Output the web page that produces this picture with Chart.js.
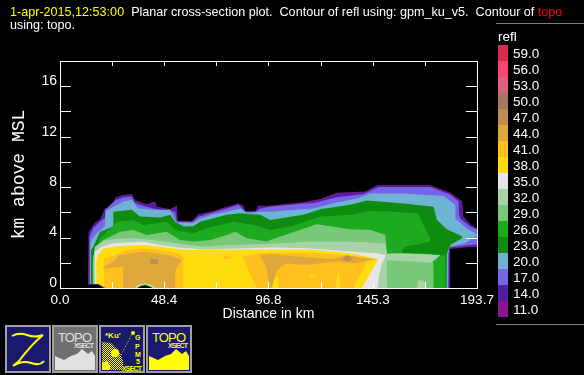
<!DOCTYPE html>
<html>
<head>
<meta charset="utf-8">
<title>Planar cross-section plot</title>
<script src="https://cdn.jsdelivr.net/npm/chart.js@4"></script>
<style>
  html, body { margin: 0; padding: 0; background: #000; width: 584px; height: 375px; overflow: hidden; }
  body { position: relative; font-family: "Liberation Sans", sans-serif; color: #fff; }
  #plot { position: absolute; left: 0; top: 0; }
  .head { position: absolute; left: 10px; font-size: 12.6px; white-space: pre; line-height: 14px; }
  .rule { position: absolute; left: 496px; width: 88px; height: 1px; background: #808080; }
  #legend-name { position: absolute; left: 498px; top: 30px; font-size: 13.5px; line-height: 14px; }
  .swatch { position: absolute; left: 498px; width: 10px; height: 16px; }
  .swatch-label { position: absolute; left: 513px; font-size: 13.5px; line-height: 16px; margin-top: 1px; }
  .icon { position: absolute; top: 325px; }
</style>
</head>
<body>
<canvas id="plot" width="584" height="375"></canvas>

<div class="head" style="top:5px"><span style="color:#ffff00">1-apr-2015,12:53:00</span>  Planar cross-section plot.  Contour of refl using: gpm_ku_v5.  Contour of <span style="color:#ff0000">topo</span></div>
<div class="head" style="top:18px">using: topo.</div>

<div class="rule" style="top:23px"></div>
<div class="rule" style="top:324px"></div>
<div id="legend-name">refl</div>
<div id="legend"></div>

<svg class="icon" style="left:5px" width="46" height="48">
  <rect x="1" y="1" width="44" height="46" fill="#191970" stroke="#a0a0a0" stroke-width="2"/>
  <path d="M7 11 Q14 7 22 10 T38 10 Q26 20 14 36 L8 41 Q17 35 26 38 T39 36" fill="none" stroke="#ffff00" stroke-width="2"/>
</svg>
<svg class="icon" style="left:52px" width="46" height="48">
  <rect x="1" y="1" width="44" height="46" fill="#707070" stroke="#a0a0a0" stroke-width="2"/>
  <text x="6" y="17" font-size="13" fill="#e0e0e0" font-family="Liberation Sans" textLength="34">TOPO</text>
  <text x="22" y="23" font-size="7" font-weight="bold" fill="#e0e0e0" font-family="Liberation Sans" textLength="20">XSECT</text>
  <path d="M3 45 L3 31 L12 35 L19 31 L25 29 L30 24 L36 29 L40 26 L43 31 L43 45 Z" fill="#e0e0e0"/>
</svg>
<svg class="icon" style="left:99px" width="46" height="48">
  <defs>
    <pattern id="dither" width="2" height="2" patternUnits="userSpaceOnUse">
      <rect width="1" height="1" fill="#ffff00"/><rect x="1" y="1" width="1" height="1" fill="#ffff00"/>
    </pattern>
  </defs>
  <rect x="1" y="1" width="44" height="46" fill="#191970" stroke="#a0a0a0" stroke-width="2"/>
  <path d="M3 45 L3 17 L12 18 L20 26 L24 36 L24 45 Z" fill="url(#dither)"/>
  <circle cx="16" cy="28" r="4" fill="#ffff00"/>
  <path d="M3 45 L3 38 L8 36 L11 41 L11 45 Z" fill="#ffff00"/>
  <text x="6" y="13" font-size="8" fill="#ffff00" font-family="Liberation Sans" font-weight="bold">*Ku'</text>
  <text x="36" y="15" font-size="7" fill="#ffff00" font-family="Liberation Sans" font-weight="bold">G</text>
  <text x="36" y="24" font-size="7" fill="#ffff00" font-family="Liberation Sans" font-weight="bold">P</text>
  <text x="36" y="32" font-size="7" fill="#ffff00" font-family="Liberation Sans" font-weight="bold">M</text>
  <text x="37" y="39" font-size="7" fill="#ffff00" font-family="Liberation Sans" font-weight="bold">5</text>
  <text x="23" y="46" font-size="7" fill="#ffff00" font-family="Liberation Sans" font-weight="bold" textLength="20">XSECT</text>
  <path d="M22 30 L33 9" stroke="#ffff00" stroke-width="1" stroke-dasharray="1 2"/>
  <circle cx="34" cy="8" r="2" fill="#ffff00"/>
</svg>
<svg class="icon" style="left:146px" width="46" height="48">
  <rect x="1" y="1" width="44" height="46" fill="#191970" stroke="#a0a0a0" stroke-width="2"/>
  <text x="6" y="17" font-size="13" fill="#ffff00" font-family="Liberation Sans" textLength="34">TOPO</text>
  <text x="22" y="23" font-size="7" font-weight="bold" fill="#ffff00" font-family="Liberation Sans" textLength="20">XSECT</text>
  <path d="M3 45 L3 31 L12 35 L19 31 L25 29 L30 24 L36 29 L40 26 L43 31 L43 45 Z" fill="#ffff00"/>
</svg>

<script>
  // legend
  var LEVELS = ['59.0', '56.0', '53.0', '50.0', '47.0', '44.0', '41.0', '38.0', '35.0', '32.0', '29.0', '26.0', '23.0', '20.0', '17.0', '14.0', '11.0'];
  var LEVEL_COLORS = ['#d92b4b', '#f5476f', '#de6080', '#a47860', '#bf8d50', '#dfa83c', '#ffc01e', '#ffdc0f', '#e6e6e6', '#a8d2a8', '#78c878', '#1eaa1e', '#0f8c0f', '#6eb4d2', '#7864e6', '#5020a0', '#8c148c'];

  // axes
  var X_TICKS = [0, 24.2, 48.4, 72.6, 96.8, 121.1, 145.3, 169.5, 193.7];
  var X_LABELS = ['0.0', '', '48.4', '', '96.8', '', '145.3', '', '193.7'];
  var Y_LABELS = { 0: '0', 4: '4', 8: '8', 12: '12', 16: '16' };

  // contour tops and floors, km against distance in km
  var dist11 = [13.0, 13.3, 14.7, 16.3, 18.6, 20.9, 24.8, 25.6, 28.7, 33.3, 34.9, 40.3, 44.2, 45, 51.2, 54.3, 54.6, 61.2, 64.3, 71.3, 77.5, 82.9, 85.3, 86, 90.7, 92.2, 96.1, 113, 120.9, 128.6, 142, 147.2, 172, 181.3, 186.7, 187, 187.2, 190.6, 193.7];
  var top11 = [0.3, 4.4, 4.78, 5.18, 5.45, 6.3, 6.55, 7.15, 7.35, 7.45, 6.95, 6.65, 6.85, 6.45, 6.25, 6.55, 5.35, 5.3, 5.85, 6.1, 6.45, 6.7, 6.5, 6.1, 6.1, 6.55, 6.5, 6.8, 7.05, 7.55, 7.65, 8.15, 8.15, 7.55, 6.9, 6.25, 5.7, 5.05, 4.7];
  var floorDist11 = [13.0, 181.1, 181.2, 190.6, 193.7];
  var floor11 = [0, 0, 3.1, 3.25, 3.25];

  var dist14 = [13.3, 14.7, 16.3, 18.6, 20.9, 24.8, 25.6, 28.7, 33.3, 34.9, 40.3, 42.6, 44.2, 45, 51.2, 54.3, 54.6, 56.6, 61.2, 64.3, 71.3, 77.5, 82.9, 85.3, 86, 90.7, 92.2, 96.1, 113, 117.7, 120.9, 128.6, 142, 147.2, 172, 174.3, 181.3, 186.7, 187, 187.2, 190.6, 193.7];
  var top14 = [4.34, 4.73, 5.13, 5.4, 6.25, 6.5, 7.1, 7.3, 7.4, 6.9, 6.6, 6.8, 6.8, 6.4, 6.2, 6.5, 5.3, 5.25, 5.25, 5.8, 6.05, 6.4, 6.65, 6.45, 6.05, 6.05, 6.5, 6.45, 6.75, 6.85, 7.0, 7.5, 7.6, 8.1, 8.1, 7.9, 7.5, 6.85, 6.2, 5.65, 5.0, 4.65];
  var floorDist14 = [13.3, 180.9, 181, 190.6, 193.7];
  var floor14 = [0, 0, 3.15, 3.3, 3.3];

  var dist17 = [13.6, 15.5, 16.3, 20.9, 21, 25.6, 29.5, 33.3, 34.9, 40.3, 45, 51.2, 53.5, 54.3, 61.2, 64.3, 71.3, 77.5, 82.9, 85.3, 86, 90.7, 93, 97.6, 113, 117.7, 128.6, 141, 148, 172, 181.3, 185.2, 185.3, 186, 190.6, 193.7];
  var top17 = [4.0, 4.8, 4.9, 5.6, 6.2, 6.95, 7.2, 7.25, 6.75, 6.45, 6.25, 6.1, 6.05, 5.25, 5.2, 5.65, 6, 6.3, 6.6, 6.2, 6, 6, 6.3, 6.45, 6.7, 6.75, 7.2, 7.45, 8.0, 8.0, 7.4, 6.85, 5.9, 5.5, 4.85, 4.65];
  var floorDist17 = [13.6, 180.5, 180.6, 190.6, 193.7];
  var floor17 = [0, 0, 3.2, 3.4, 3.45];

  var dist20 = [14.0, 14.7, 17, 20.9, 21.2, 25.6, 29.5, 33.3, 36.4, 42.6, 51.2, 53.5, 54.6, 62, 65.1, 71.3, 77.5, 83.7, 86.8, 93, 97.6, 117.7, 127, 137.9, 144.1, 159.6, 178.2, 183.6, 183.7, 189, 193, 193.7];
  var top20 = [3.5, 3.8, 4.35, 4.9, 6.1, 6.5, 6.85, 7.0, 6.3, 6.2, 6.2, 5.4, 5.2, 5.2, 5.5, 5.85, 6.05, 6.3, 5.95, 6.05, 6.05, 6.3, 6.72, 7.1, 7.5, 7.5, 7.3, 6.6, 5.5, 4.7, 4.35, 4.2];
  var floorDist20 = [14.0, 180.1, 180.2, 181, 188, 192, 193.7];
  var floor20 = [0, 0, 2.6, 3.3, 3.55, 3.95, 4.2];

  var dist23 = [14.4, 15.5, 18.6, 20.9, 24.7, 24.8, 33.3, 37.2, 46.5, 51.2, 53.5, 57.4, 62, 65.1, 77.5, 83.7, 93, 97.6, 113, 120.9, 134.8, 142.5, 159.6, 173.5, 175.1, 179.7, 186.7];
  var top23 = [3.0, 3.3, 4.47, 4.6, 4.9, 6.05, 6.2, 5.66, 5.6, 5.8, 5.25, 4.87, 4.9, 5.25, 5.8, 5.93, 5.8, 5.4, 5.8, 6.25, 6.6, 6.93, 6.7, 6.45, 5.4, 4.65, 4.1];
  var floorDist23 = [14.4, 179.6, 179.7, 181.3, 186.7];
  var floor23 = [0, 0, 2.7, 3.4, 3.95];

  var dist26 = [14.9, 15.5, 18.6, 23.3, 26.4, 34.1, 38.8, 49.6, 53.5, 62, 68.2, 74.4, 80.6, 89.9, 97.6, 107, 120.9, 134.8, 144.1, 155.7, 166.5, 168, 172, 172.1, 177, 179, 179.1];
  var top26 = [2.3, 2.5, 3.95, 4.7, 5.25, 5.4, 5, 5.25, 4.6, 4.34, 4.75, 5, 5.25, 5, 4.6, 4.87, 5.66, 5.8, 6.1, 6.05, 5.9, 5.25, 3.9, 2.7, 2.6, 2.6, 0];

  var dist29 = [15.3, 16.3, 20.2, 27.9, 34.1, 40.3, 49.6, 55.8, 62, 69.8, 77.5, 81.4, 86.8, 96.1, 97.6, 106.9, 119.3, 134.8, 144.1, 151.1, 151.5, 152, 158.8, 172.5, 173.5, 173.6];
  var top29 = [2.4, 3.02, 3.81, 4.47, 4.6, 4.2, 4.47, 3.81, 3.68, 3.81, 4.2, 4.47, 3.94, 3.68, 3.81, 4.34, 5.05, 4.66, 4.6, 4.2, 3.54, 2.55, 2.75, 2.7, 1.9, 0];

  // darker wedge laid over the 26 band east of 158 km
  var dist23b = [158.8, 160.4, 165, 172, 176.6];
  var top23b = [2.95, 3.3, 3.4, 3.68, 2.7];
  var floorDist23b = [158.8, 176.6];
  var floor23b = [2.75, 2.65];

  var dist32 = [15.6, 16.3, 20.2, 26.4, 34.1, 43.4, 54.3, 66.7, 77.5, 97.6, 116.2, 134.8, 144.1, 151.1, 151.8, 151.9];
  var top32 = [2.6, 3.28, 3.76, 3.9, 3.94, 3.81, 3.54, 3.28, 3.41, 3.5, 3.67, 3.67, 3.6, 3.5, 2.75, 0];

  var dist32b = [151.5, 155.7, 166, 176.6];
  var top32b = [2.72, 2.75, 2.68, 2.62];
  var floorDist32b = [151.5, 163, 172, 174, 176.6];
  var floor32b = [2.2, 2.1, 2.0, 2.2, 2.6];

  var dist32c = [165.8, 166.5, 169, 169.6];
  var top32c = [0, 0.6, 0.6, 0];

  var dist35 = [16.1, 16.2, 19.5, 24.7, 38.8, 46.5, 54.3, 68.2, 97.6, 114.6, 134.8, 147.2, 151.1, 151.4];
  var top35 = [2.4, 2.88, 3.28, 3.54, 3.67, 3.41, 3.22, 3.06, 3.22, 3.15, 2.9, 2.75, 2.6, 2.55];
  var floorDist35 = [16.1, 147.5, 148.4, 149.5, 151.4];
  var floor35 = [0, 0, 1.16, 1.96, 2.55];

  var dist38 = [16.8, 17.5, 20.4, 28.7, 38.8, 49.6, 58.9, 93, 97.6, 116.2, 134.8, 147.9];
  var top38 = [2.2, 2.6, 3.17, 3.33, 3.41, 3.22, 3.02, 3.06, 3.06, 3.06, 2.75, 2.28];
  var floorDist38 = [16.8, 140.2, 147.9];
  var floor38 = [0, 0, 2.28];

  var dist41 = [20.4, 25.6, 31, 38.8, 49.6, 55, 57.4];
  var top41 = [2.35, 2.6, 3.02, 3.15, 2.93, 2.75, 2.43];
  var floorDist41 = [20.4, 57.3, 57.4];
  var floor41 = [0, 0, 2.43];

  var dist41b = [75.2, 77, 80.6];
  var top41b = [2.35, 2.6, 2.4];
  var floorDist41b = [75.2, 77, 80.6];
  var floor41b = [2.35, 2.28, 2.4];

  var dist41c = [84.5, 93, 97.6, 116.2, 134.8, 143.3];
  var top41c = [2.45, 2.75, 2.8, 2.8, 2.58, 2.3];
  var floorDist41c = [84.5, 91.5, 136.3, 143.3];
  var floor41c = [2.45, 0, 0, 2.3];

  // yellow specks inside the 41 band
  var dist38b = [97.6, 101.5];
  var top38b = [0.9, 0.9];
  var dist38c = [115.4, 117, 119.3];
  var top38c = [1.0, 1.15, 0.95];
  var floorDist38c = [115.4, 119.3];
  var floor38c = [0.9, 0.9];
  var dist38d = [127.8, 129.5, 130.1];
  var top38d = [0, 1.55, 0];

  var dist44 = [19.4, 25.6, 27.1, 38.8, 51.2, 56.6];
  var top44 = [1.56, 2.2, 2.6, 2.9, 2.6, 2.2];
  var floorDist44 = [19.4, 29.3, 29.4, 53.5, 53.6, 56.6];
  var floor44 = [1.56, 1.7, 0, 0, 1.43, 2.2];

  var dist44b = [93, 97.6, 113, 127, 133, 141, 147.2];
  var top44b = [2.6, 2.7, 2.45, 2.3, 2.6, 2.4, 2.28];
  var floorDist44b = [93, 96, 97.2, 98.4, 100.7, 105.3, 113.1, 120.9, 127, 130, 136.3, 147.2];
  var floor44b = [2.6, 1.5, 0, 0, 1.43, 1.96, 1.83, 1.96, 2.1, 2.1, 1.96, 2.28];

  var dist47 = [41.9, 45.7];
  var top47 = [2.3, 2.3];
  var floorDist47 = [41.9, 45.7];
  var floor47 = [1.9, 1.9];

  var dist47b = [131, 133.5, 136];
  var top47b = [2.3, 2.6, 2.25];
  var floorDist47b = [131, 133.5, 136];
  var floor47b = [2.3, 2.1, 2.25];

  // no-echo ground humps along the bottom of the section
  var humpDistA = [13.0, 17.8, 21];
  var humpRimA = [0.32, 0.32, 0];
  var humpDistB = [13.0, 17.8, 20];
  var humpCoreA = [0.25, 0.25, 0];
  var humpDistC = [34.9, 36.5, 39.5, 42, 44.2];
  var humpRimWhite = [0, 0.25, 0.36, 0.25, 0];
  var humpDistD = [35.6, 37, 39.5, 41.5, 43.4];
  var humpRimGreen = [0, 0.18, 0.3, 0.18, 0];
  var humpDistE = [36.2, 37.5, 39.5, 41, 42.8];
  var humpCoreB = [0, 0.12, 0.2, 0.12, 0];

  function level(v) { return LEVEL_COLORS[LEVELS.indexOf(v.toFixed(1))]; }

  var legend = document.getElementById('legend');
  LEVELS.forEach(function (name, i) {
    var top = 45 + i * 16;
    legend.innerHTML += '<div class="swatch" style="top:' + top + 'px;background:' + LEVEL_COLORS[i] + '"></div>' +
      '<div class="swatch-label" style="top:' + top + 'px">' + name + '</div>';
  });

  var datasets = [];

  function toPoints(xs, ys) {
    return xs.map(function (x, i) { return { x: x, y: ys[i] }; });
  }

  function addBand(color, xs, tops, floorXs, floors) {
    var fill = 'origin';
    if (floorXs) {
      datasets.push({ data: toPoints(floorXs, floors), fill: false, borderWidth: 0, pointRadius: 0 });
      fill = { target: datasets.length - 1 };
    }
    datasets.push({ data: toPoints(xs, tops), fill: fill, backgroundColor: color, borderWidth: 0, pointRadius: 0 });
  }

  addBand(level(11), dist11, top11, floorDist11, floor11);
  addBand(level(14), dist14, top14, floorDist14, floor14);
  addBand(level(17), dist17, top17, floorDist17, floor17);
  addBand(level(20), dist20, top20, floorDist20, floor20);
  addBand(level(23), dist23, top23, floorDist23, floor23);
  addBand(level(26), dist26, top26);
  addBand(level(23), dist23b, top23b, floorDist23b, floor23b);
  addBand(level(29), dist29, top29);
  addBand(level(32), dist32, top32);
  addBand(level(32), dist32b, top32b, floorDist32b, floor32b);
  addBand(level(32), dist32c, top32c);
  addBand(level(35), dist35, top35, floorDist35, floor35);
  addBand(level(38), dist38, top38, floorDist38, floor38);
  addBand(level(41), dist41, top41, floorDist41, floor41);
  addBand(level(41), dist41b, top41b, floorDist41b, floor41b);
  addBand(level(41), dist41c, top41c, floorDist41c, floor41c);
  addBand(level(38), dist38b, top38b);
  addBand(level(38), dist38c, top38c, floorDist38c, floor38c);
  addBand(level(38), dist38d, top38d);
  addBand(level(44), dist44, top44, floorDist44, floor44);
  addBand(level(44), dist44b, top44b, floorDist44b, floor44b);
  addBand(level(47), dist47, top47, floorDist47, floor47);
  addBand(level(47), dist47b, top47b, floorDist47b, floor47b);
  addBand(level(14), humpDistA, humpRimA);
  addBand('#000000', humpDistB, humpCoreA);
  addBand(level(35), humpDistC, humpRimWhite);
  addBand(level(26), humpDistD, humpRimGreen);
  addBand('#000000', humpDistE, humpCoreB);

  // later layers paint over earlier ones
  datasets.forEach(function (d, i) { d.order = datasets.length - i; });

  var inwardTicks = {
    id: 'inwardTicks',
    afterDraw: function (chart) {
      var ctx = chart.ctx, area = chart.chartArea;
      ctx.save();
      ctx.strokeStyle = '#ffffff';
      ctx.lineWidth = 1;
      ctx.strokeRect(area.left + 0.5, area.top + 0.5, area.right - area.left, area.bottom - area.top);
      ctx.beginPath();
      chart.scales.x.ticks.forEach(function (t) {
        var px = Math.round(chart.scales.x.getPixelForValue(t.value)) + 0.5;
        ctx.moveTo(px, area.bottom); ctx.lineTo(px, area.bottom - 6);
        ctx.moveTo(px, area.top); ctx.lineTo(px, area.top + 5);
      });
      chart.scales.y.ticks.forEach(function (t) {
        var py = Math.round(chart.scales.y.getPixelForValue(t.value)) + 0.5;
        ctx.moveTo(area.left, py); ctx.lineTo(area.left + 11, py);
        ctx.moveTo(area.right, py); ctx.lineTo(area.right - 11, py);
      });
      ctx.stroke();
      ctx.restore();
    }
  };

  new Chart(document.getElementById('plot'), {
    type: 'line',
    data: { datasets: datasets },
    plugins: [inwardTicks],
    options: {
      responsive: false,
      animation: false,
      events: [],
      layout: { padding: { top: 61, right: 107, left: 0, bottom: 0 } },
      elements: { line: { tension: 0 } },
      plugins: { legend: { display: false }, tooltip: { enabled: false } },
      scales: {
        x: {
          type: 'linear', min: 0, max: 193.7,
          afterBuildTicks: function (axis) {
            axis.ticks = X_TICKS.map(function (v) { return { value: v }; });
          },
          afterFit: function (axis) { axis.height = 87; },
          grid: { display: false, drawTicks: false },
          border: { display: false },
          title: { display: true, text: 'Distance in km', color: '#fff', font: { family: 'Liberation Sans', size: 14 }, padding: { top: 0, bottom: 52.6 } },
          ticks: {
            color: '#fff', font: { family: 'Liberation Sans', size: 13.5 }, padding: 4,
            autoSkip: false, maxRotation: 0,
            callback: function (v, i) { return X_LABELS[i]; }
          }
        },
        y: {
          min: 0, max: 18,
          afterFit: function (axis) { axis.width = 60; },
          grid: { display: false, drawTicks: false },
          border: { display: false },
          title: { display: true, text: 'km above MSL', color: '#fff', font: { family: 'Liberation Mono', size: 18 }, padding: { top: 8, bottom: 0 } },
          ticks: {
            color: '#fff', font: { family: 'Liberation Sans', size: 14 }, padding: 3,
            stepSize: 2, autoSkip: false, labelOffset: -5,
            callback: function (v) { return Y_LABELS[v] || ''; }
          }
        }
      }
    }
  });
</script>
</body>
</html>
